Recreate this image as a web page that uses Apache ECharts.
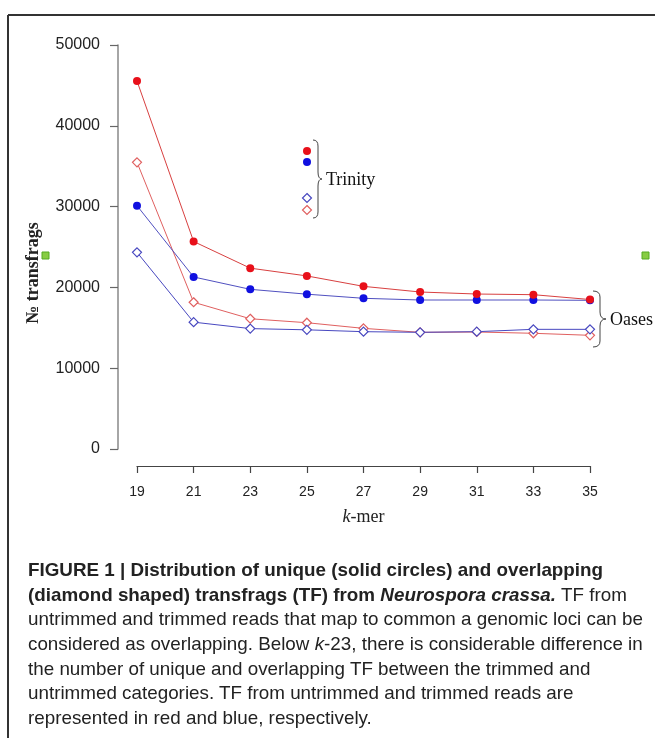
<!DOCTYPE html>
<html>
<head>
<meta charset="utf-8">
<script src="https://cdn.jsdelivr.net/npm/echarts@6/dist/echarts.min.js"></script>
<style>
  html, body { margin: 0; padding: 0; background: #fff; }
  #wrap { position: relative; width: 655px; height: 738px; overflow: hidden; }
  #chart { position: absolute; left: 0; top: 0; width: 655px; height: 738px; }
  #caption { position: absolute; left: 28px; top: 558px; font-family: "Liberation Sans", Arial, sans-serif; font-size: 19px; color: #222; }
  #caption .ln { white-space: nowrap; height: 24.7px; line-height: 24.7px; transform-origin: 0 50%; }
</style>
</head>
<body>
<div id="wrap">
  <div id="chart"></div>
  <div id="caption">
    <div class="ln"><b>FIGURE 1 | Distribution of unique (solid circles) and overlapping</b></div>
    <div class="ln"><b>(diamond shaped) transfrags (TF) from <i>Neurospora crassa.</i></b> TF from</div>
    <div class="ln" id="refline">untrimmed and trimmed reads that map to common a genomic loci can be</div>
    <div class="ln">considered as overlapping. Below <i>k</i>-23, there is considerable difference in</div>
    <div class="ln">the number of unique and overlapping TF between the trimmed and</div>
    <div class="ln">untrimmed categories. TF from untrimmed and trimmed reads are</div>
    <div class="ln">represented in red and blue, respectively.</div>
  </div>
</div>
<script>
// ---- data ----
const kmer = [19, 21, 23, 25, 27, 29, 31, 33, 35];
const yTicks = [0, 10000, 20000, 30000, 40000, 50000];
const untrimmedUnique  = [45540, 25680, 22380, 21420, 20130, 19430, 19180, 19100, 18500];
const trimmedUnique    = [30110, 21290, 19760, 19160, 18650, 18440, 18440, 18440, 18400];
const untrimmedOverlap = [35480, 18160, 16120, 15630, 14930, 14440, 14480, 14320, 14070];
const trimmedOverlap   = [24340, 15700, 14900, 14750, 14520, 14440, 14520, 14810, 14810];

// caption width fit
(function () {
  const ref = document.getElementById('refline');
  const r = document.createElement('span');
  r.textContent = ref.textContent;
  r.style.whiteSpace = 'nowrap';
  ref.textContent = '';
  ref.appendChild(r);
  const w = r.getBoundingClientRect().width;
  const s = 615 / w;
  document.querySelectorAll('#caption .ln').forEach(el => { el.style.transform = 'scaleX(' + s + ')'; });
})();

const chart = echarts.init(document.getElementById('chart'), null, { renderer: 'canvas' });
const pair = arr => arr.map((v, i) => [kmer[i], v]);
const RED = '#e8101a', BLUE = '#1010e0';
const REDLINE = '#d84040', BLUELINE = '#5050c0';
const REDD = '#e06060', BLUED = '#4848c0';
const diamond = 'path://M0,-1L1,0L0,1L-1,0Z';

function brace(x0, yTop, yBot, dx, tip) {
  const xs = x0 + dx, ym = (yTop + yBot) / 2, st = { stroke: '#444', lineWidth: 1, fill: 'none' };
  return [
    { type: 'bezierCurve', shape: { x1: x0, y1: yTop, cpx1: xs, cpy1: yTop, x2: xs, y2: yTop + 6 }, style: st },
    { type: 'line', shape: { x1: xs, y1: yTop + 6, x2: xs, y2: ym - 7 }, style: st },
    { type: 'bezierCurve', shape: { x1: xs, y1: ym - 7, cpx1: xs, cpy1: ym, x2: xs + tip, y2: ym }, style: st },
    { type: 'bezierCurve', shape: { x1: xs + tip, y1: ym, cpx1: xs, cpy1: ym, x2: xs, y2: ym + 7 }, style: st },
    { type: 'line', shape: { x1: xs, y1: ym + 7, x2: xs, y2: yBot - 6 }, style: st },
    { type: 'bezierCurve', shape: { x1: xs, y1: yBot - 6, cpx1: xs, cpy1: yBot, x2: x0, y2: yBot }, style: st }
  ];
}

const option = {
  animation: false,
  backgroundColor: '#fff',
  grid: { left: 137, right: 65, top: 45, height: 404 },
  xAxis: {
    type: 'value', min: 19, max: 35, interval: 2, offset: 17,
    name: '{i|k}{n|-mer}', nameLocation: 'middle', nameGap: 42,
    nameTextStyle: { fontFamily: 'Liberation Serif', fontSize: 18, color: '#222',
      rich: { i: { fontStyle: 'italic', fontFamily: 'Liberation Serif', fontSize: 18, color: '#222' },
              n: { fontFamily: 'Liberation Serif', fontSize: 18, color: '#222' } } },
    axisLine: { show: true, onZero: false, lineStyle: { color: '#444', width: 1.2 } },
    axisTick: { show: true, length: 7, lineStyle: { color: '#444', width: 1.2 } },
    axisLabel: { fontFamily: 'Liberation Sans', fontSize: 14, color: '#222', margin: 19 },
    splitLine: { show: false }
  },
  yAxis: {
    type: 'value', min: 0, max: 50000, interval: 10000, offset: 19,
    axisLine: { show: true, onZero: false, lineStyle: { color: '#888', width: 1.5 } },
    axisTick: { show: true, length: 8, lineStyle: { color: '#666', width: 1.2 } },
    axisLabel: { fontFamily: 'Liberation Sans', fontSize: 16, color: '#222', margin: 18,
      formatter: v => yTicks.indexOf(v) >= 0 ? String(v) : '' },
    splitLine: { show: false }
  },
  series: [
    { name: 'untrimmed overlapping', type: 'line', data: pair(untrimmedOverlap), symbol: diamond, symbolSize: 9,
      lineStyle: { color: REDD, width: 1 }, itemStyle: { color: '#fff', borderColor: REDD, borderWidth: 1.2 } },
    { name: 'trimmed overlapping', type: 'line', data: pair(trimmedOverlap), symbol: diamond, symbolSize: 9,
      lineStyle: { color: BLUED, width: 1 }, itemStyle: { color: '#fff', borderColor: BLUED, borderWidth: 1.2 } },
    { name: 'trimmed unique', type: 'line', data: pair(trimmedUnique), symbol: 'circle', symbolSize: 8,
      lineStyle: { color: BLUELINE, width: 1 }, itemStyle: { color: BLUE, borderWidth: 0 } },
    { name: 'untrimmed unique', type: 'line', data: pair(untrimmedUnique), symbol: 'circle', symbolSize: 8,
      lineStyle: { color: REDLINE, width: 1 }, itemStyle: { color: RED, borderWidth: 0 } }
  ],
  graphic: [
    // frame
    { type: 'line', shape: { x1: 8, y1: 15, x2: 655, y2: 15 }, style: { stroke: '#333', lineWidth: 2 } },
    { type: 'line', shape: { x1: 8, y1: 15, x2: 8, y2: 738 }, style: { stroke: '#333', lineWidth: 2 } },
    // y-axis title
    { type: 'text', x: 33, y: 273, rotation: Math.PI / 2,
      style: { text: '№ transfrags', font: 'bold 18px "Liberation Serif", serif', fill: '#222', align: 'center', verticalAlign: 'middle' } },
    // green squares
    { type: 'rect', shape: { x: 42, y: 252, width: 7, height: 7 }, style: { fill: '#8c4', stroke: '#5a2', lineWidth: 1 } },
    { type: 'rect', shape: { x: 642, y: 252, width: 7, height: 7 }, style: { fill: '#8c4', stroke: '#5a2', lineWidth: 1 } },
    // Trinity legend
    { type: 'circle', shape: { cx: 307, cy: 151, r: 4 }, style: { fill: RED } },
    { type: 'circle', shape: { cx: 307, cy: 162, r: 4 }, style: { fill: BLUE } },
    { type: 'polygon', shape: { points: [[307, 193.5], [311.5, 198], [307, 202.5], [302.5, 198]] }, style: { fill: '#fff', stroke: BLUED, lineWidth: 1.2 } },
    { type: 'polygon', shape: { points: [[307, 205.5], [311.5, 210], [307, 214.5], [302.5, 210]] }, style: { fill: '#fff', stroke: REDD, lineWidth: 1.2 } },
    ...brace(313, 140, 218, 5, 4),
    { type: 'text', x: 326, y: 180, style: { text: 'Trinity', font: '18px "Liberation Serif", serif', fill: '#111', verticalAlign: 'middle' } },
    // Oases brace
    ...brace(593, 291, 347, 7, 6),
    { type: 'text', x: 610, y: 320, style: { text: 'Oases', font: '18px "Liberation Serif", serif', fill: '#111', verticalAlign: 'middle' } }
  ]
};
chart.setOption(option);
</script>
</body>
</html>
